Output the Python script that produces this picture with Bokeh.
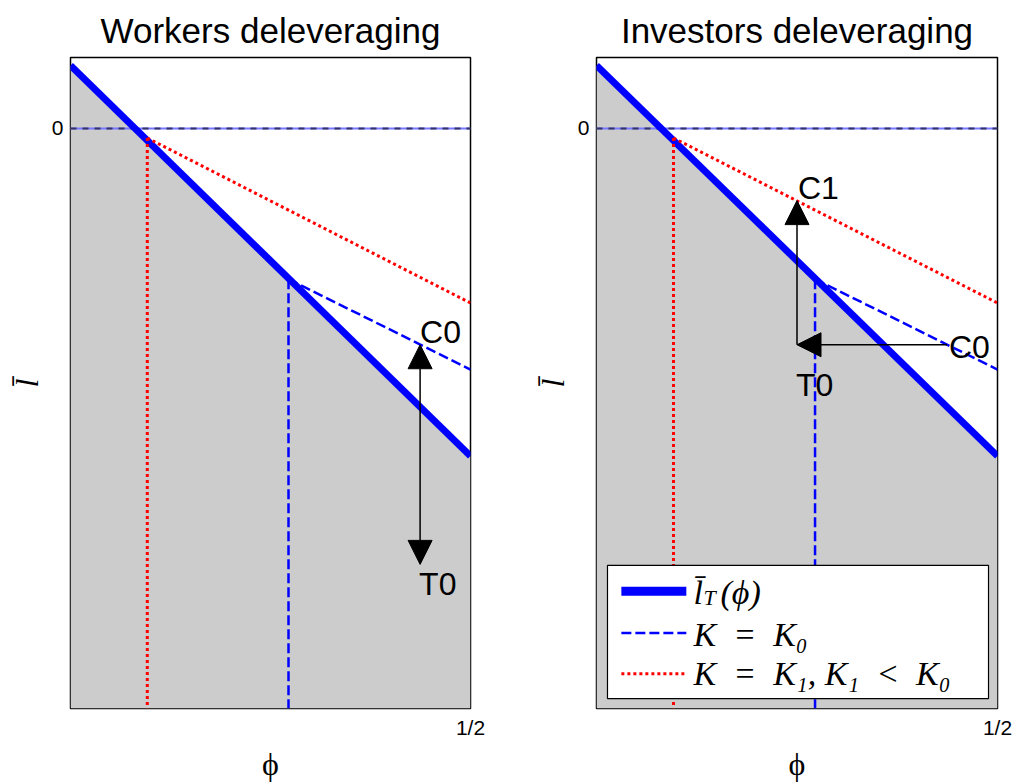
from bokeh.plotting import figure
from bokeh.layouts import row
from bokeh.models import Range1d, FixedTicker, Arrow, NormalHead, BoxAnnotation
from bokeh.core.properties import value
from bokeh.embed import file_html
from bokeh.resources import INLINE

# ---- axis extents -------------------------------------------------------
PHI_MIN, PHI_MAX = 0.0, 0.5
L_MIN, L_MAX = -5.84, 0.71

# ---- curves -------------------------------------------------------------
# threshold l_T(phi)
phi_T = [0.0, 0.5]
l_T = [0.63, -3.30]
# branch for K = K0
phi_K0 = [0.2725, 0.5]
l_K0 = [-1.52, -2.43]
# branch for K = K1 (K1 < K0)
phi_K1 = [0.096, 0.5]
l_K1 = [-0.10, -1.76]

# ---- ticks --------------------------------------------------------------
phi_ticks = [0.5]
phi_tick_labels = ["1/2"]
l_ticks = [0]
l_tick_labels = ["0"]

# ---- labelled points ----------------------------------------------------
workers_names = ["C0", "T0"]
workers_phi = [0.437, 0.437]
workers_l = [-2.18, -4.39]

investors_names = ["C0", "T0", "C1"]
investors_phi = [0.437, 0.25, 0.25]
investors_l = [-2.18, -2.18, -0.73]

# ---- legend entries -----------------------------------------------------
legend_labels = ["l̄", "K\u2002=\u2002K₀", "K\u2002=\u2002K₁, K₁\u2002<\u2002K₀"]

SANS = "Liberation Sans"
SERIF = "Liberation Serif"
BLUE = "#0000ff"
RED = "#ff0000"
GREY = "#cccccc"


def panel(title, width, border_left, border_right):
    p = figure(width=width, height=784, title=title,
               x_range=Range1d(PHI_MIN, PHI_MAX), y_range=Range1d(L_MIN, L_MAX),
               output_backend="svg", toolbar_location=None,
               min_border_left=border_left, min_border_right=border_right,
               min_border_top=57, min_border_bottom=72)
    p.title.align = "center"
    p.title.text_font = SANS
    p.title.text_font_size = "35px"
    p.title.text_font_style = "normal"
    p.title.text_color = "black"
    p.title.standoff = 15
    p.grid.visible = False
    p.outline_line_color = "black"
    p.outline_line_width = 1.5
    p.background_fill_color = "white"
    p.border_fill_color = "white"

    p.xaxis.ticker = FixedTicker(ticks=phi_ticks)
    p.xaxis.major_label_overrides = dict(zip(phi_ticks, phi_tick_labels))
    p.yaxis.ticker = FixedTicker(ticks=l_ticks)
    p.yaxis.major_label_overrides = dict(zip(l_ticks, l_tick_labels))
    for ax in (p.xaxis[0], p.yaxis[0]):
        ax.axis_line_color = None
        ax.major_tick_line_color = None
        ax.minor_tick_line_color = None
        ax.major_tick_in = 0
        ax.major_tick_out = 0
        ax.major_label_text_font = SANS
        ax.major_label_text_font_size = "21px"
        ax.major_label_text_color = "black"
        ax.major_label_standoff = 7
        ax.axis_label_text_font = SERIF
        ax.axis_label_text_font_size = "32px"
        ax.axis_label_text_color = "black"
        ax.axis_label_standoff = 4
    p.xaxis.axis_label = "ϕ"
    p.xaxis.axis_label_text_font_style = "normal"
    p.yaxis.axis_label = "l̄"
    p.yaxis.axis_label_text_font_style = "italic"

    # shaded region under the threshold
    p.varea(x=phi_T, y1=l_T, y2=L_MIN, fill_color=GREY)
    # zero level
    p.hspan(y=0, line_color="#7777ff", line_width=2)
    p.hspan(y=0, line_color="#333366", line_width=2, line_dash="6 6")
    # threshold curve
    p.line(phi_T, l_T, line_color=BLUE, line_width=7)
    # K = K1 branch and its starting phi
    p.line([phi_K1[0], phi_K1[0]], [l_K1[0], L_MIN], line_color=RED,
           line_width=3, line_dash="3 3")
    p.line(phi_K1, l_K1, line_color=RED, line_width=3, line_dash="3 3")
    # K = K0 branch and its starting phi
    p.line([phi_K0[0], phi_K0[0]], [l_K0[0], L_MIN], line_color=BLUE,
           line_width=2.5, line_dash="10 4")
    p.line(phi_K0, l_K0, line_color=BLUE, line_width=2.5, line_dash="10 4")
    return p


def head():
    return NormalHead(size=24, fill_color="black", line_color="black", line_width=1)


# ---- left: workers deleveraging ----------------------------------------
p1 = panel("Workers deleveraging", 520, 70, 50)
p1.add_layout(Arrow(start=head(), end=head(),
                    x_start=workers_phi[0], y_start=workers_l[0],
                    x_end=workers_phi[1], y_end=workers_l[1],
                    line_color="black", line_width=1.5))
p1.text(x=workers_phi, y=workers_l, text=workers_names,
        x_offset=[0, -1], y_offset=[-13, 20],
        text_font=value(SANS), text_font_size="32px", text_color="black",
        text_align="left", text_baseline="alphabetic")

# ---- right: investors deleveraging -------------------------------------
p2 = panel("Investors deleveraging", 498, 76, 21)
p2.add_layout(Arrow(end=head(),
                    x_start=investors_phi[0], y_start=investors_l[0],
                    x_end=investors_phi[1], y_end=investors_l[1],
                    line_color="black", line_width=1.5))
p2.add_layout(Arrow(end=head(),
                    x_start=investors_phi[1], y_start=investors_l[1],
                    x_end=investors_phi[2], y_end=investors_l[2],
                    line_color="black", line_width=1.5))
p2.text(x=investors_phi, y=investors_l, text=investors_names,
        x_offset=[2, -1, 1], y_offset=[2, 40, -13],
        text_font=value(SANS), text_font_size="32px", text_color="black",
        text_align="left", text_baseline="alphabetic")

# legend box and entries
LEG_LEFT, LEG_RIGHT, LEG_TOP, LEG_BOTTOM = 0.0137, 0.4888, -4.40, -5.74
LEG_SAMPLE_X = [0.031, 0.112]
LEG_TEXT_X = 0.121
LEG_ROW_Y = [-4.66, -5.08, -5.49]
LEG_BASE_Y = [-4.67, -5.10, -5.49]

p2.add_layout(BoxAnnotation(left=LEG_LEFT, right=LEG_RIGHT, top=LEG_TOP, bottom=LEG_BOTTOM,
                            fill_color="white", fill_alpha=1.0,
                            line_color="black", line_width=1.2, line_alpha=1.0))
p2.line(LEG_SAMPLE_X, [LEG_ROW_Y[0]] * 2, line_color=BLUE, line_width=9, level="overlay")
p2.line(LEG_SAMPLE_X, [LEG_ROW_Y[1]] * 2, line_color=BLUE, line_width=2.5,
        line_dash="10 4", level="overlay")
p2.line(LEG_SAMPLE_X, [LEG_ROW_Y[2]] * 2, line_color=RED, line_width=3,
        line_dash="3 3", level="overlay")

# first entry: l-bar with subscript T, then (phi)
p2.text(x=[LEG_TEXT_X, LEG_TEXT_X], y=[LEG_BASE_Y[0]] * 2, text=[legend_labels[0], "(ϕ)"],
        x_offset=[0, 27], y_offset=[0, 0],
        text_font=value(SERIF), text_font_style="italic", text_font_size="34px",
        text_color="black", text_baseline="alphabetic", level="overlay")
p2.text(x=[LEG_TEXT_X], y=[LEG_BASE_Y[0]], text=["T"], x_offset=[10], y_offset=[5],
        text_font=value(SERIF), text_font_style="italic", text_font_size="22px",
        text_color="black", text_baseline="alphabetic", level="overlay")
p2.text(x=[LEG_TEXT_X, LEG_TEXT_X], y=LEG_BASE_Y[1:], text=legend_labels[1:],
        text_font=value(SERIF), text_font_style="italic", text_font_size="34px",
        text_color="black", text_baseline="alphabetic", level="overlay")

layout = row(p1, p2)
open("out.html", "w").write(file_html(layout, INLINE))
